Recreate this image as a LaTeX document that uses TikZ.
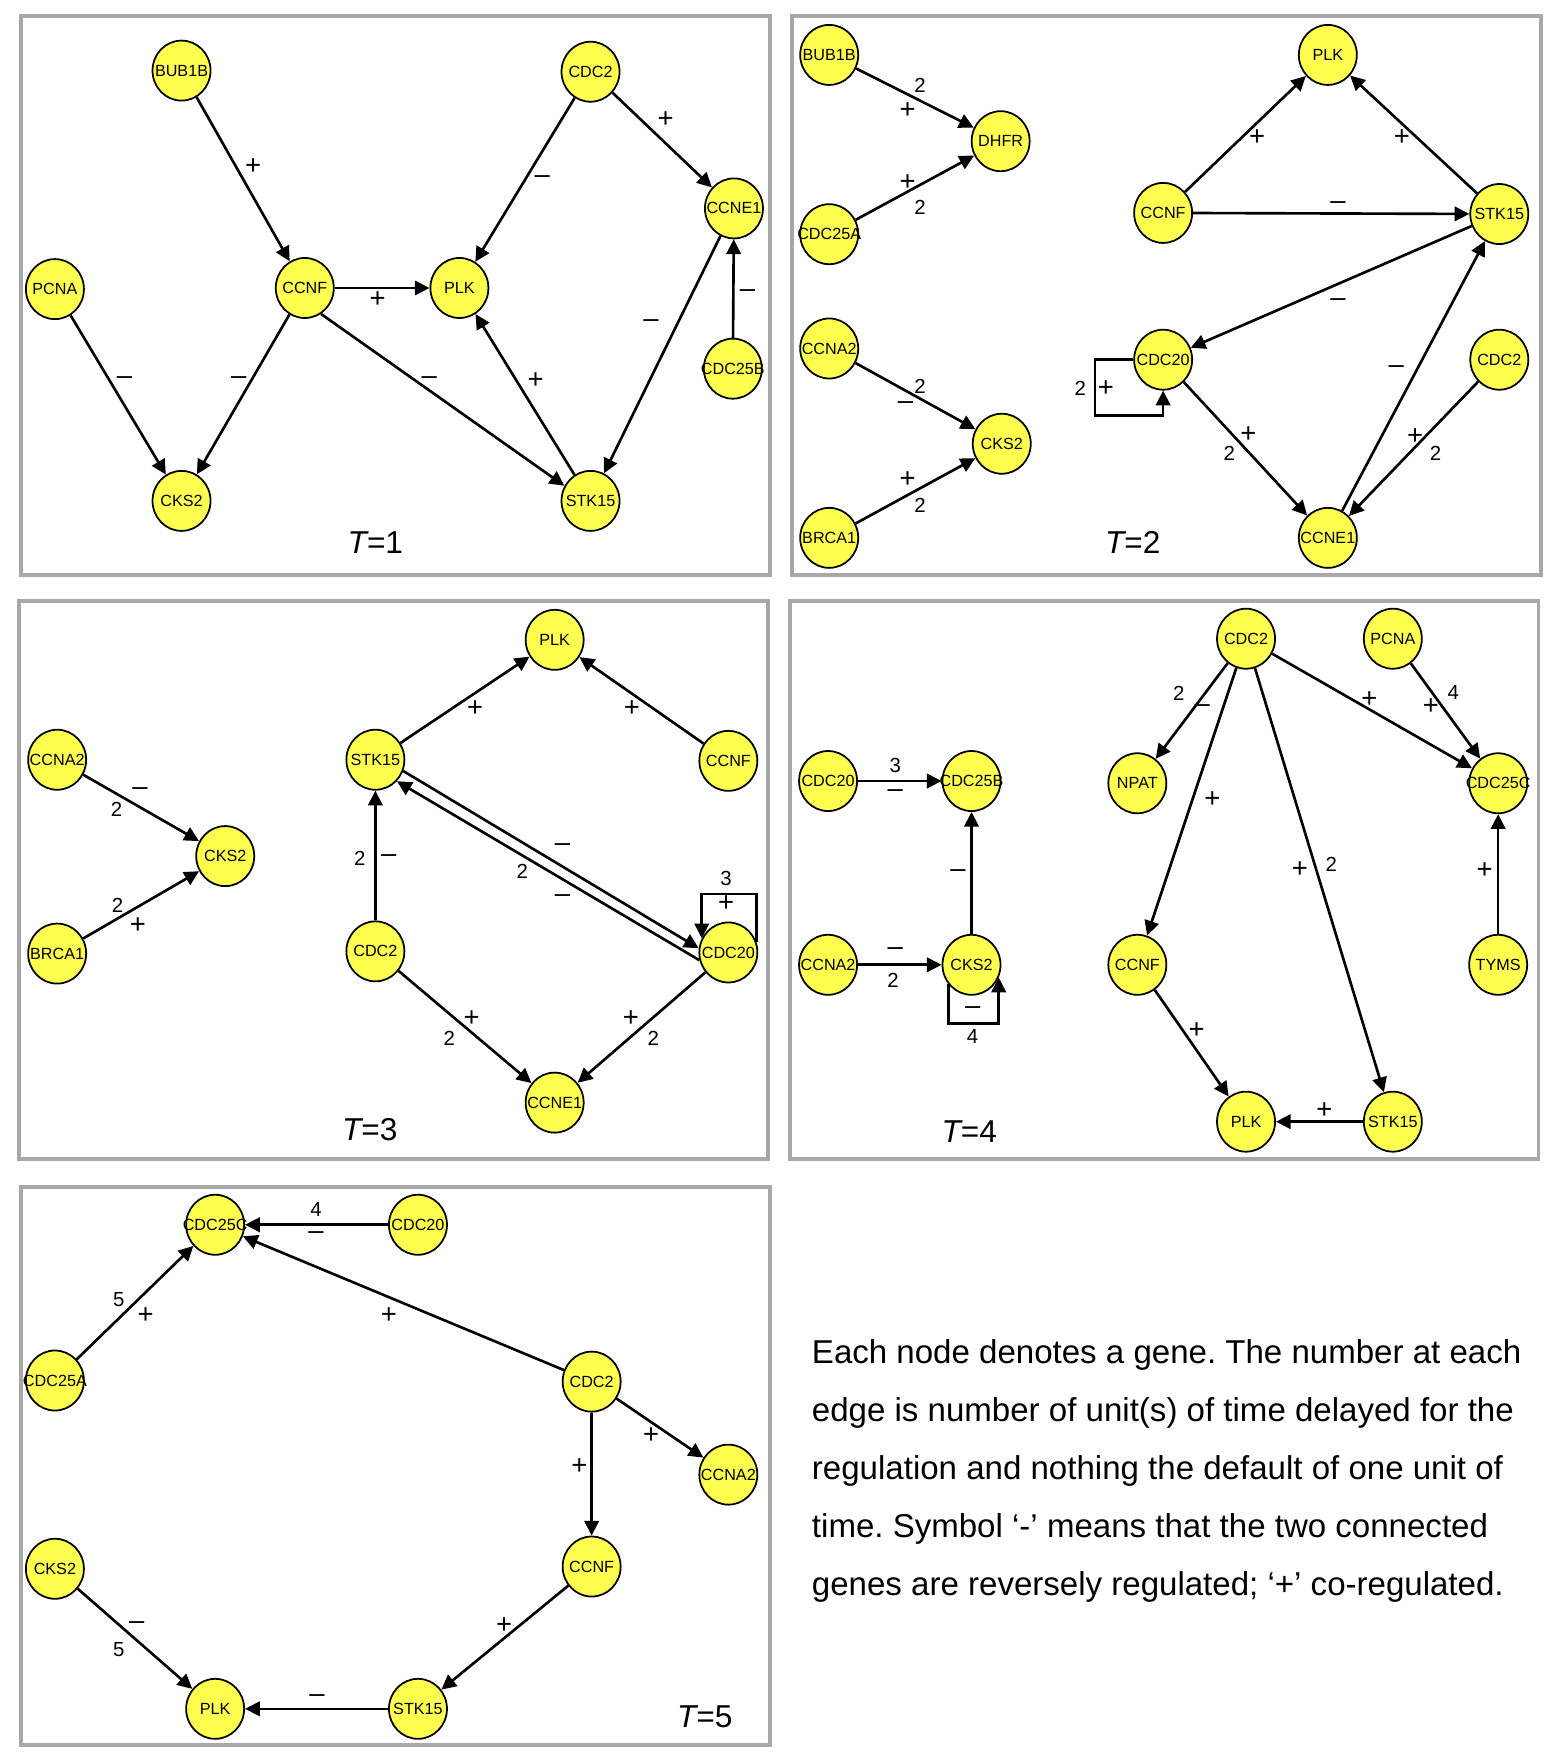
\documentclass[tikz,border=0pt]{standalone}
\usepackage{fontspec}
\setmainfont{Liberation Sans}
\usepackage{xcolor}
\definecolor{GeneYel}{RGB}{255,255,80}
\definecolor{PanelGray}{RGB}{168,168,168}
\usepackage{tikz}
\usetikzlibrary{shapes.geometric}
\usetikzlibrary{arrows.meta}
\newcommand{\Gn}[1]{\makebox[0pt]{#1}}
\tikzstyle{Gene}=[ellipse,draw=black,fill=GeneYel,line width=.5pt,
minimum width=.58cm,minimum height=.6cm,inner sep=0pt,font=\fontsize{4.6}{5}\selectfont]
\tikzstyle{Edge}=[draw=black,line width=.75pt,-{Triangle[length=4.2pt,width=4.1pt]}]
\tikzstyle{Sign}=[inner sep=0pt,font=\fontsize{7.8}{8}\selectfont]
\tikzstyle{Delay}=[inner sep=0pt,font=\fontsize{5.8}{7}\selectfont]
\tikzstyle{Panel}=[draw=PanelGray,line width=1.1pt]
\tikzstyle{Time}=[inner sep=0pt,font=\fontsize{9}{10}\selectfont]

\begin{document}
\frenchspacing
\begin{tikzpicture}[x=0.0112cm,y=-0.0112cm]
    \useasboundingbox[fill=white](0,0)rectangle(1390,1568);
    % panels
    \draw[Panel](19,14)rectangle(687,513);
    \draw[Panel](707,14)rectangle(1375,513);
    \draw[Panel](17,536)rectangle(685,1034);
    \draw[Panel](705,536)rectangle(1373,1034);
    \draw[Panel](19,1059)rectangle(687,1557);
    % T=1
        \node[Gene](p1BUB1B)at(162,63){\Gn{BUB1B}};
        \node[Gene](p1CDC2)at(527,64){\Gn{CDC2}};
        \node[Gene](p1CCNE1)at(655,186){\Gn{CCNE1}};
        \node[Gene](p1PCNA)at(49,258){\Gn{PCNA}};
        \node[Gene](p1CCNF)at(272,257){\Gn{CCNF}};
        \node[Gene](p1PLK)at(410,257){\Gn{PLK}};
        \node[Gene](p1CDC25B)at(654,329){\Gn{CDC25B}};
        \node[Gene](p1CKS2)at(162,447){\Gn{CKS2}};
        \node[Gene](p1STK15)at(527,447){\Gn{STK15}};
        \draw[Edge](p1BUB1B)--(p1CCNF);
        \draw[Edge](p1CDC2)--(p1PLK);
        \draw[Edge](p1CDC2)--(p1CCNE1);
        \draw[Edge](p1CDC25B)--(p1CCNE1);
        \draw[Edge](p1CCNE1)--(p1STK15);
        \draw[Edge](p1CCNF)--(p1PLK);
        \draw[Edge](p1PCNA)--(p1CKS2);
        \draw[Edge](p1CCNF)--(p1CKS2);
        \draw[Edge](p1CCNF.-58)--(p1STK15.150);
        \draw[Edge](p1STK15)--(p1PLK);
        \node[Sign](p1s1)at(226,149){+};
        \node[Sign](p1s2)at(484,160){–};
        \node[Sign](p1s3)at(594,107){+};
        \node[Sign](p1s4)at(667,262){–};
        \node[Sign](p1s5)at(581,289){–};
        \node[Sign](p1s6)at(337,267){+};
        \node[Sign](p1s7)at(111,340){–};
        \node[Sign](p1s8)at(213,340){–};
        \node[Sign](p1s9)at(383,340){–};
        \node[Sign](p1s10)at(478,340){+};
        \node[Time](p1T)at(335,484){\itshape T\upshape=1};
    % T=2
        \node[Gene](p2BUB1B)at(740,49){\Gn{BUB1B}};
        \node[Gene](p2DHFR)at(893,126){\Gn{DHFR}};
        \node[Gene](p2CDC25A)at(740,209){\Gn{CDC25A}};
        \node[Gene](p2CCNA2)at(740,311){\Gn{CCNA2}};
        \node[Gene](p2CKS2)at(894,396){\Gn{CKS2}};
        \node[Gene](p2BRCA1)at(740,480){\Gn{BRCA1}};
        \node[Gene](p2PLK)at(1185,49){\Gn{PLK}};
        \node[Gene](p2CCNF)at(1038,190){\Gn{CCNF}};
        \node[Gene](p2STK15)at(1338,191){\Gn{STK15}};
        \node[Gene](p2CDC20)at(1038,321){\Gn{CDC20}};
        \node[Gene](p2CDC2)at(1338,321){\Gn{CDC2}};
        \node[Gene](p2CCNE1)at(1185,480){\Gn{CCNE1}};
        \draw[Edge](p2BUB1B)--(p2DHFR);
        \draw[Edge](p2CDC25A)--(p2DHFR);
        \draw[Edge](p2CCNA2)--(p2CKS2);
        \draw[Edge](p2BRCA1)--(p2CKS2);
        \draw[Edge](p2CCNF)--(p2PLK);
        \draw[Edge](p2STK15)--(p2PLK);
        \draw[Edge](p2CCNF)--(p2STK15);
        \draw[Edge](p2STK15)--(p2CDC20);
        \draw[Edge](p2CDC20.west)--++(-34,0)--++(0,50)-|(p2CDC20.south);
        \draw[Edge](p2CDC20)--(p2CCNE1);
        \draw[Edge](p2CCNE1)--(p2STK15);
        \draw[Edge](p2CDC2)--(p2CCNE1);
        \node[Delay](p2d1)at(821,76){2};
        \node[Sign](p2s1)at(810,99){+};
        \node[Sign](p2s2)at(810,163){+};
        \node[Delay](p2d2)at(821,185){2};
        \node[Delay](p2d3)at(821,345){2};
        \node[Sign](p2s3)at(808,362){–};
        \node[Sign](p2s4)at(810,428){+};
        \node[Delay](p2d4)at(821,451){2};
        \node[Sign](p2s5)at(1122,123){+};
        \node[Sign](p2s6)at(1251,123){+};
        \node[Sign](p2s7)at(1194,183){–};
        \node[Sign](p2s8)at(1194,270){–};
        \node[Delay](p2d5)at(964,347){2};
        \node[Sign](p2s9)at(987,347){+};
        \node[Sign](p2s10)at(1114,388){+};
        \node[Delay](p2d6)at(1097,405){2};
        \node[Sign](p2s11)at(1246,330){–};
        \node[Sign](p2s12)at(1263,390){+};
        \node[Delay](p2d7)at(1281,405){2};
        \node[Time](p2T)at(1011,484){\itshape T\upshape=2};
    % T=3
        \node[Gene](p3PLK)at(495,571){\Gn{PLK}};
        \node[Gene](p3CCNA2)at(51,678){\Gn{CCNA2}};
        \node[Gene](p3STK15)at(335,678){\Gn{STK15}};
        \node[Gene](p3CCNF)at(650,679){\Gn{CCNF}};
        \node[Gene](p3CKS2)at(201,764){\Gn{CKS2}};
        \node[Gene](p3BRCA1)at(51,851){\Gn{BRCA1}};
        \node[Gene](p3CDC2)at(335,849){\Gn{CDC2}};
        \node[Gene](p3CDC20)at(650,850){\Gn{CDC20}};
        \node[Gene](p3CCNE1)at(495,984){\Gn{CCNE1}};
        \draw[Edge](p3CCNA2)--(p3CKS2);
        \draw[Edge](p3BRCA1)--(p3CKS2);
        \draw[Edge](p3STK15)--(p3PLK);
        \draw[Edge](p3CCNF)--(p3PLK);
        \draw[Edge](p3CDC2)--(p3STK15);
        \draw[Edge](p3STK15.-22)--(p3CDC20.172);
        \draw[Edge](p3CDC20.195)--(p3STK15.-45);
        \draw[Edge](p3CDC20.20)--++(0,-43)-|(p3CDC20.152);
        \draw[Edge](p3CDC2)--(p3CCNE1);
        \draw[Edge](p3CDC20)--(p3CCNE1);
        \node[Sign](p3s1)at(125,706){–};
        \node[Delay](p3d1)at(104,722){2};
        \node[Delay](p3d2)at(105,808){2};
        \node[Sign](p3s2)at(123,826){+};
        \node[Sign](p3s3)at(424,632){+};
        \node[Sign](p3s4)at(564,632){+};
        \node[Delay](p3d3)at(321,766){2};
        \node[Sign](p3s5)at(347,766){–};
        \node[Sign](p3s6)at(502,756){–};
        \node[Delay](p3d4)at(466,778){2};
        \node[Sign](p3s7)at(502,802){–};
        \node[Delay](p3d5)at(648,784){3};
        \node[Sign](p3s8)at(648,806){+};
        \node[Sign](p3s9)at(421,909){+};
        \node[Delay](p3d6)at(401,927){2};
        \node[Sign](p3s10)at(563,909){+};
        \node[Delay](p3d7)at(583,927){2};
        \node[Time](p3T)at(330,1008){\itshape T\upshape=3};
    % T=4
        \node[Gene](p4CDC2)at(1112,570){\Gn{CDC2}};
        \node[Gene](p4PCNA)at(1243,570){\Gn{PCNA}};
        \node[Gene](p4CDC20)at(739,697){\Gn{CDC20}};
        \node[Gene](p4CDC25B)at(867,697){\Gn{CDC25B}};
        \node[Gene](p4NPAT)at(1015,699){\Gn{NPAT}};
        \node[Gene](p4CDC25C)at(1337,699){\Gn{CDC25C}};
        \node[Gene](p4CCNA2)at(739,861){\Gn{CCNA2}};
        \node[Gene](p4CKS2)at(867,861){\Gn{CKS2}};
        \node[Gene](p4CCNF)at(1015,861){\Gn{CCNF}};
        \node[Gene](p4TYMS)at(1337,861){\Gn{TYMS}};
        \node[Gene](p4PLK)at(1112,1001){\Gn{PLK}};
        \node[Gene](p4STK15)at(1243,1001){\Gn{STK15}};
        \draw[Edge](p4CDC20)--(p4CDC25B);
        \draw[Edge](p4CCNA2)--(p4CKS2);
        \draw[Edge](p4CKS2)--(p4CDC25B);
        \draw[Edge](p4CKS2.220)--++(0,35)-|(p4CKS2.335);
        \draw[Edge](p4CDC2)--(p4NPAT);
        \draw[Edge](p4CDC2)--(p4CCNF);
        \draw[Edge](p4CDC2)--(p4STK15);
        \draw[Edge](p4CDC2)--(p4CDC25C);
        \draw[Edge](p4PCNA)--(p4CDC25C);
        \draw[Edge](p4TYMS)--(p4CDC25C);
        \draw[Edge](p4CCNF)--(p4PLK);
        \draw[Edge](p4STK15)--(p4PLK);
        \node[Delay](p4d1)at(799,683){3};
        \node[Sign](p4s1)at(799,708){–};
        \node[Sign](p4s2)at(799,849){–};
        \node[Delay](p4d2)at(797,875){2};
        \node[Sign](p4s3)at(855,780){–};
        \node[Sign](p4s4)at(868,902){–};
        \node[Delay](p4d3)at(868,925){4};
        \node[Delay](p4d4)at(1052,619){2};
        \node[Sign](p4s5)at(1073,632){–};
        \node[Sign](p4s6)at(1082,714){+};
        \node[Sign](p4s7)at(1160,776){+};
        \node[Delay](p4d5)at(1188,771){2};
        \node[Sign](p4s8)at(1222,624){+};
        \node[Delay](p4d6)at(1297,618){4};
        \node[Sign](p4s9)at(1277,631){+};
        \node[Sign](p4s10)at(1325,777){+};
        \node[Sign](p4s11)at(1068,920){+};
        \node[Sign](p4s12)at(1182,991){+};
        \node[Time](p4T)at(865,1010){\itshape T\upshape=4};
    % T=5
        \node[Gene](p5CDC25C)at(192,1093){\Gn{CDC25C}};
        \node[Gene](p5CDC20)at(373,1093){\Gn{CDC20}};
        \node[Gene](p5CDC25A)at(49,1232){\Gn{CDC25A}};
        \node[Gene](p5CDC2)at(528,1233){\Gn{CDC2}};
        \node[Gene](p5CCNA2)at(650,1316){\Gn{CCNA2}};
        \node[Gene](p5CKS2)at(49,1400){\Gn{CKS2}};
        \node[Gene](p5CCNF)at(528,1398){\Gn{CCNF}};
        \node[Gene](p5PLK)at(192,1525){\Gn{PLK}};
        \node[Gene](p5STK15)at(373,1525){\Gn{STK15}};
        \draw[Edge](p5CDC20)--(p5CDC25C);
        \draw[Edge](p5CDC25A)--(p5CDC25C);
        \draw[Edge](p5CDC2)--(p5CDC25C);
        \draw[Edge](p5CDC2)--(p5CCNA2);
        \draw[Edge](p5CDC2)--(p5CCNF);
        \draw[Edge](p5CCNF)--(p5STK15);
        \draw[Edge](p5CKS2)--(p5PLK);
        \draw[Edge](p5STK15)--(p5PLK);
        \node[Delay](p5d1)at(282,1079){4};
        \node[Sign](p5s1)at(282,1103){–};
        \node[Delay](p5d2)at(106,1160){5};
        \node[Sign](p5s2)at(130,1174){+};
        \node[Sign](p5s3)at(347,1174){+};
        \node[Sign](p5s4)at(581,1281){+};
        \node[Sign](p5s5)at(517,1309){+};
        \node[Sign](p5s6)at(450,1451){+};
        \node[Sign](p5s7)at(122,1451){–};
        \node[Delay](p5d3)at(106,1472){5};
        \node[Sign](p5s8)at(283,1516){–};
        \node[Time](p5T)at(629,1532){\itshape T\upshape=5};
    % legend
    \node[anchor=north west,inner sep=0pt,align=left,font=\fontsize{9.4}{16.5}\selectfont](legend)at(724,1195)
        {Each node denotes a gene. The number at each\\
         edge is number of unit(s) of time delayed for the\\
         regulation and nothing the default of one unit of\\
         time. Symbol ‘-’ means that the two connected\\
         genes are reversely regulated; ‘+’ co-regulated.};
\end{tikzpicture}
\end{document}
